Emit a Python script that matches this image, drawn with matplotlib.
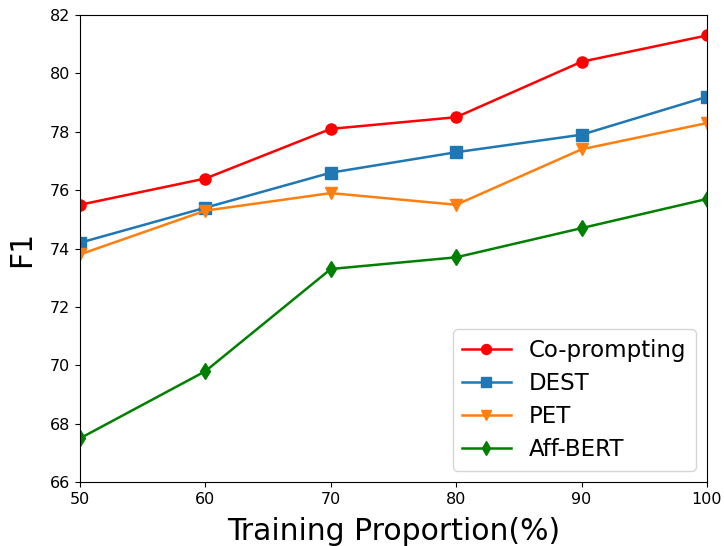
import matplotlib
matplotlib.use("Agg")
import matplotlib.pyplot as plt

x = [50, 60, 70, 80, 90, 100]
co_prompting = [75.5, 76.4, 78.1, 78.5, 80.4, 81.3]
dest = [74.2, 75.4, 76.6, 77.3, 77.9, 79.2]
pet = [73.8, 75.3, 75.9, 75.5, 77.4, 78.3]
aff_bert = [67.5, 69.8, 73.3, 73.7, 74.7, 75.7]

fig = plt.figure(figsize=(7.24, 5.46), dpi=100)
ax = fig.add_axes([0.1105, 0.117, 0.866, 0.8555])
ax.plot(x, co_prompting, color="red", marker="o", markersize=8, linewidth=1.8, label="Co-prompting")
ax.plot(x, dest, color="#1f77b4", marker="s", markersize=8, linewidth=1.8, label="DEST")
ax.plot(x, pet, color="#ff7f0e", marker="v", markersize=8, linewidth=1.8, label="PET")
ax.plot(x, aff_bert, color="green", marker="d", markersize=8, linewidth=1.8, label="Aff-BERT")
ax.set_xlim(50, 100)
ax.set_ylim(66, 82)
ax.set_yticks(range(66, 83, 2))
ax.tick_params(labelsize=11.5)
ax.set_xlabel("Training Proportion(%)", fontsize=21.5, labelpad=7)
ax.set_ylabel("F1", fontsize=21.5, labelpad=10)
ax.legend(loc="lower right", fontsize=16.5, markerscale=0.9, labelspacing=0.45,
          handlelength=2.1)
fig.savefig("out.png", dpi=100)
